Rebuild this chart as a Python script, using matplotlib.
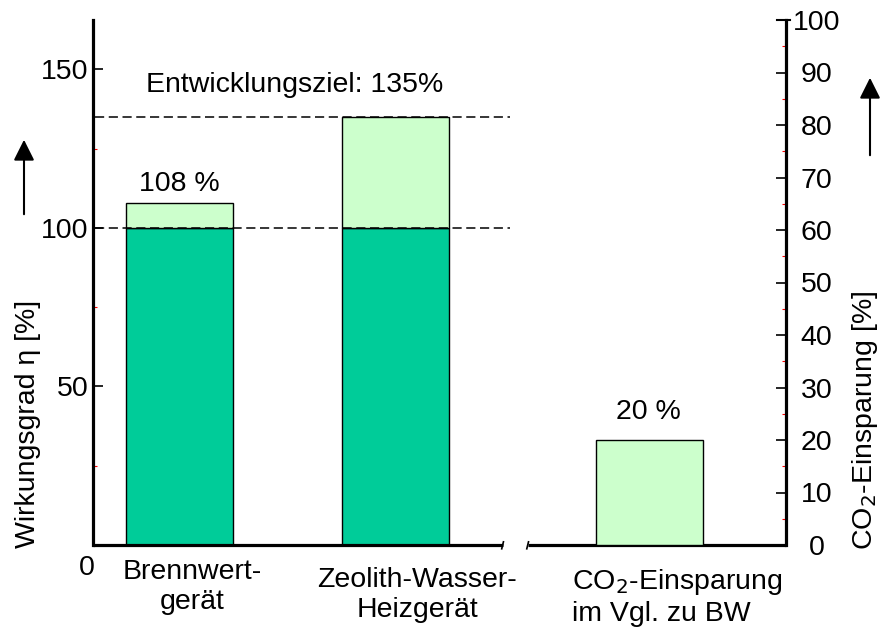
import matplotlib
matplotlib.use("Agg")
import matplotlib.pyplot as plt
import numpy as np

plt.rcParams['font.family'] = ['Liberation Sans', 'DejaVu Sans']

# Data
x_pos = [0.0, 1.0, 2.174]
base = [100, 100]            # Wirkungsgrad basis
total = [108, 135]           # Wirkungsgrad gesamt
co2 = 20                     # CO2-Einsparung
labels = ["Brennwert-\ngerät", "Zeolith-Wasser-\nHeizgerät", "CO$_2$-Einsparung\nim Vgl. zu BW"]
ref_lines = [100, 135]

dark = "#00CC99"
light = "#CCFFCC"
fs = 20.5

fig = plt.figure(figsize=(8.83, 6.44), dpi=100)
ax = fig.add_axes([93/883, 99/644, 693/883, 525/644])
ax2 = ax.twinx()

w = 0.495
ax.bar(x_pos[:2], base, width=w, color=dark, edgecolor="black", linewidth=1, zorder=2)
ax.bar(x_pos[:2], np.array(total) - np.array(base), bottom=base, width=w,
       color=light, edgecolor="black", linewidth=1, zorder=2)
ax2.bar(x_pos[2], co2, width=w, color=light, edgecolor="black", linewidth=1, zorder=2)

for y in ref_lines:
    ax.plot([-0.39, 1.53], [y, y], color="black", lw=1.1, ls=(0, (6, 3)), zorder=3)

ax.set_xlim(-0.4, 2.808)
ax.set_ylim(0, 165.6)
ax2.set_ylim(0, 100)

# spines
for a in (ax, ax2):
    a.spines['top'].set_visible(False)
    a.spines['bottom'].set_visible(False)
ax.spines['right'].set_visible(False)
ax2.spines['left'].set_visible(False)
ax.spines['left'].set_linewidth(2.3)
ax2.spines['right'].set_linewidth(2.3)

# broken x axis
ax.plot([-0.4, 1.498], [0, 0], color="black", lw=2.3, clip_on=False, zorder=4, solid_capstyle='butt')
ax.plot([1.613, 2.808], [0, 0], color="black", lw=2.3, clip_on=False, zorder=4, solid_capstyle='butt')
ax.plot([1.492, 1.500], [-1.2, 1.0], color="black", lw=1.2, clip_on=False)
ax.plot([1.608, 1.616], [-1.2, 1.0], color="black", lw=1.2, clip_on=False)
ax2.plot([2.766, 2.826], [100, 100], color="black", lw=1.5, clip_on=False)

# ticks
ax.set_xticks([])
ax.set_yticks([50, 100, 150])
ax.set_yticks([25, 75, 125], minor=True)
ax.tick_params(axis='y', which='major', direction='in', length=7, width=1.2,
               labelsize=fs, pad=3)
ax.tick_params(axis='y', which='minor', direction='in', length=3, width=0.8, color='red')

ax2.set_yticks(np.arange(0, 101, 10))
ax2.set_yticks(np.arange(5, 100, 10), minor=True)
ax2.tick_params(axis='y', which='major', direction='in', length=7, width=1.2,
                labelsize=fs, pad=22)
ax2.tick_params(axis='y', which='minor', direction='in', length=3, width=0.8, color='red')
for t in ax2.get_yticklabels():
    t.set_horizontalalignment('center')

# annotations
ax.text(0.535, 145, "Entwicklungsziel: 135%", ha='center', va='center', fontsize=fs)
ax.text(0.0, 114, "108 %", ha='center', va='center', fontsize=fs)
ax2.text(2.17, 25.3, "20 %", ha='center', va='center', fontsize=fs)

# category labels
ax.text(0.06, -4.5, labels[0], ha='center', va='top', fontsize=fs, linespacing=1.2)
ax.text(1.10, -7, labels[1], ha='center', va='top', fontsize=fs, linespacing=1.2)
ax.text(1.817, -7, labels[2], ha='left', va='top', fontsize=fs, linespacing=1.2)
fig.text(87/883, 1 - 568/644, "0", ha='center', va='center', fontsize=fs)

# axis labels
fig.text(28/883, 1 - 424/644, "Wirkungsgrad η [%]", rotation=90, ha='center', va='center', fontsize=fs)
fig.text(865/883, 1 - 420/644, "CO$_2$-Einsparung [%]", rotation=90, ha='center', va='center', fontsize=fs)

# arrows
for xp, y0, y1 in [(24, 217, 137), (870, 158, 75)]:
    fig.add_artist(matplotlib.patches.FancyArrowPatch(
        (xp/883, 1 - y0/644), (xp/883, 1 - y1/644), transform=fig.transFigure,
        arrowstyle='-|>,head_length=0.9,head_width=0.45', mutation_scale=14,
        color='black', lw=1.5))

fig.savefig("out.png", dpi=100)
